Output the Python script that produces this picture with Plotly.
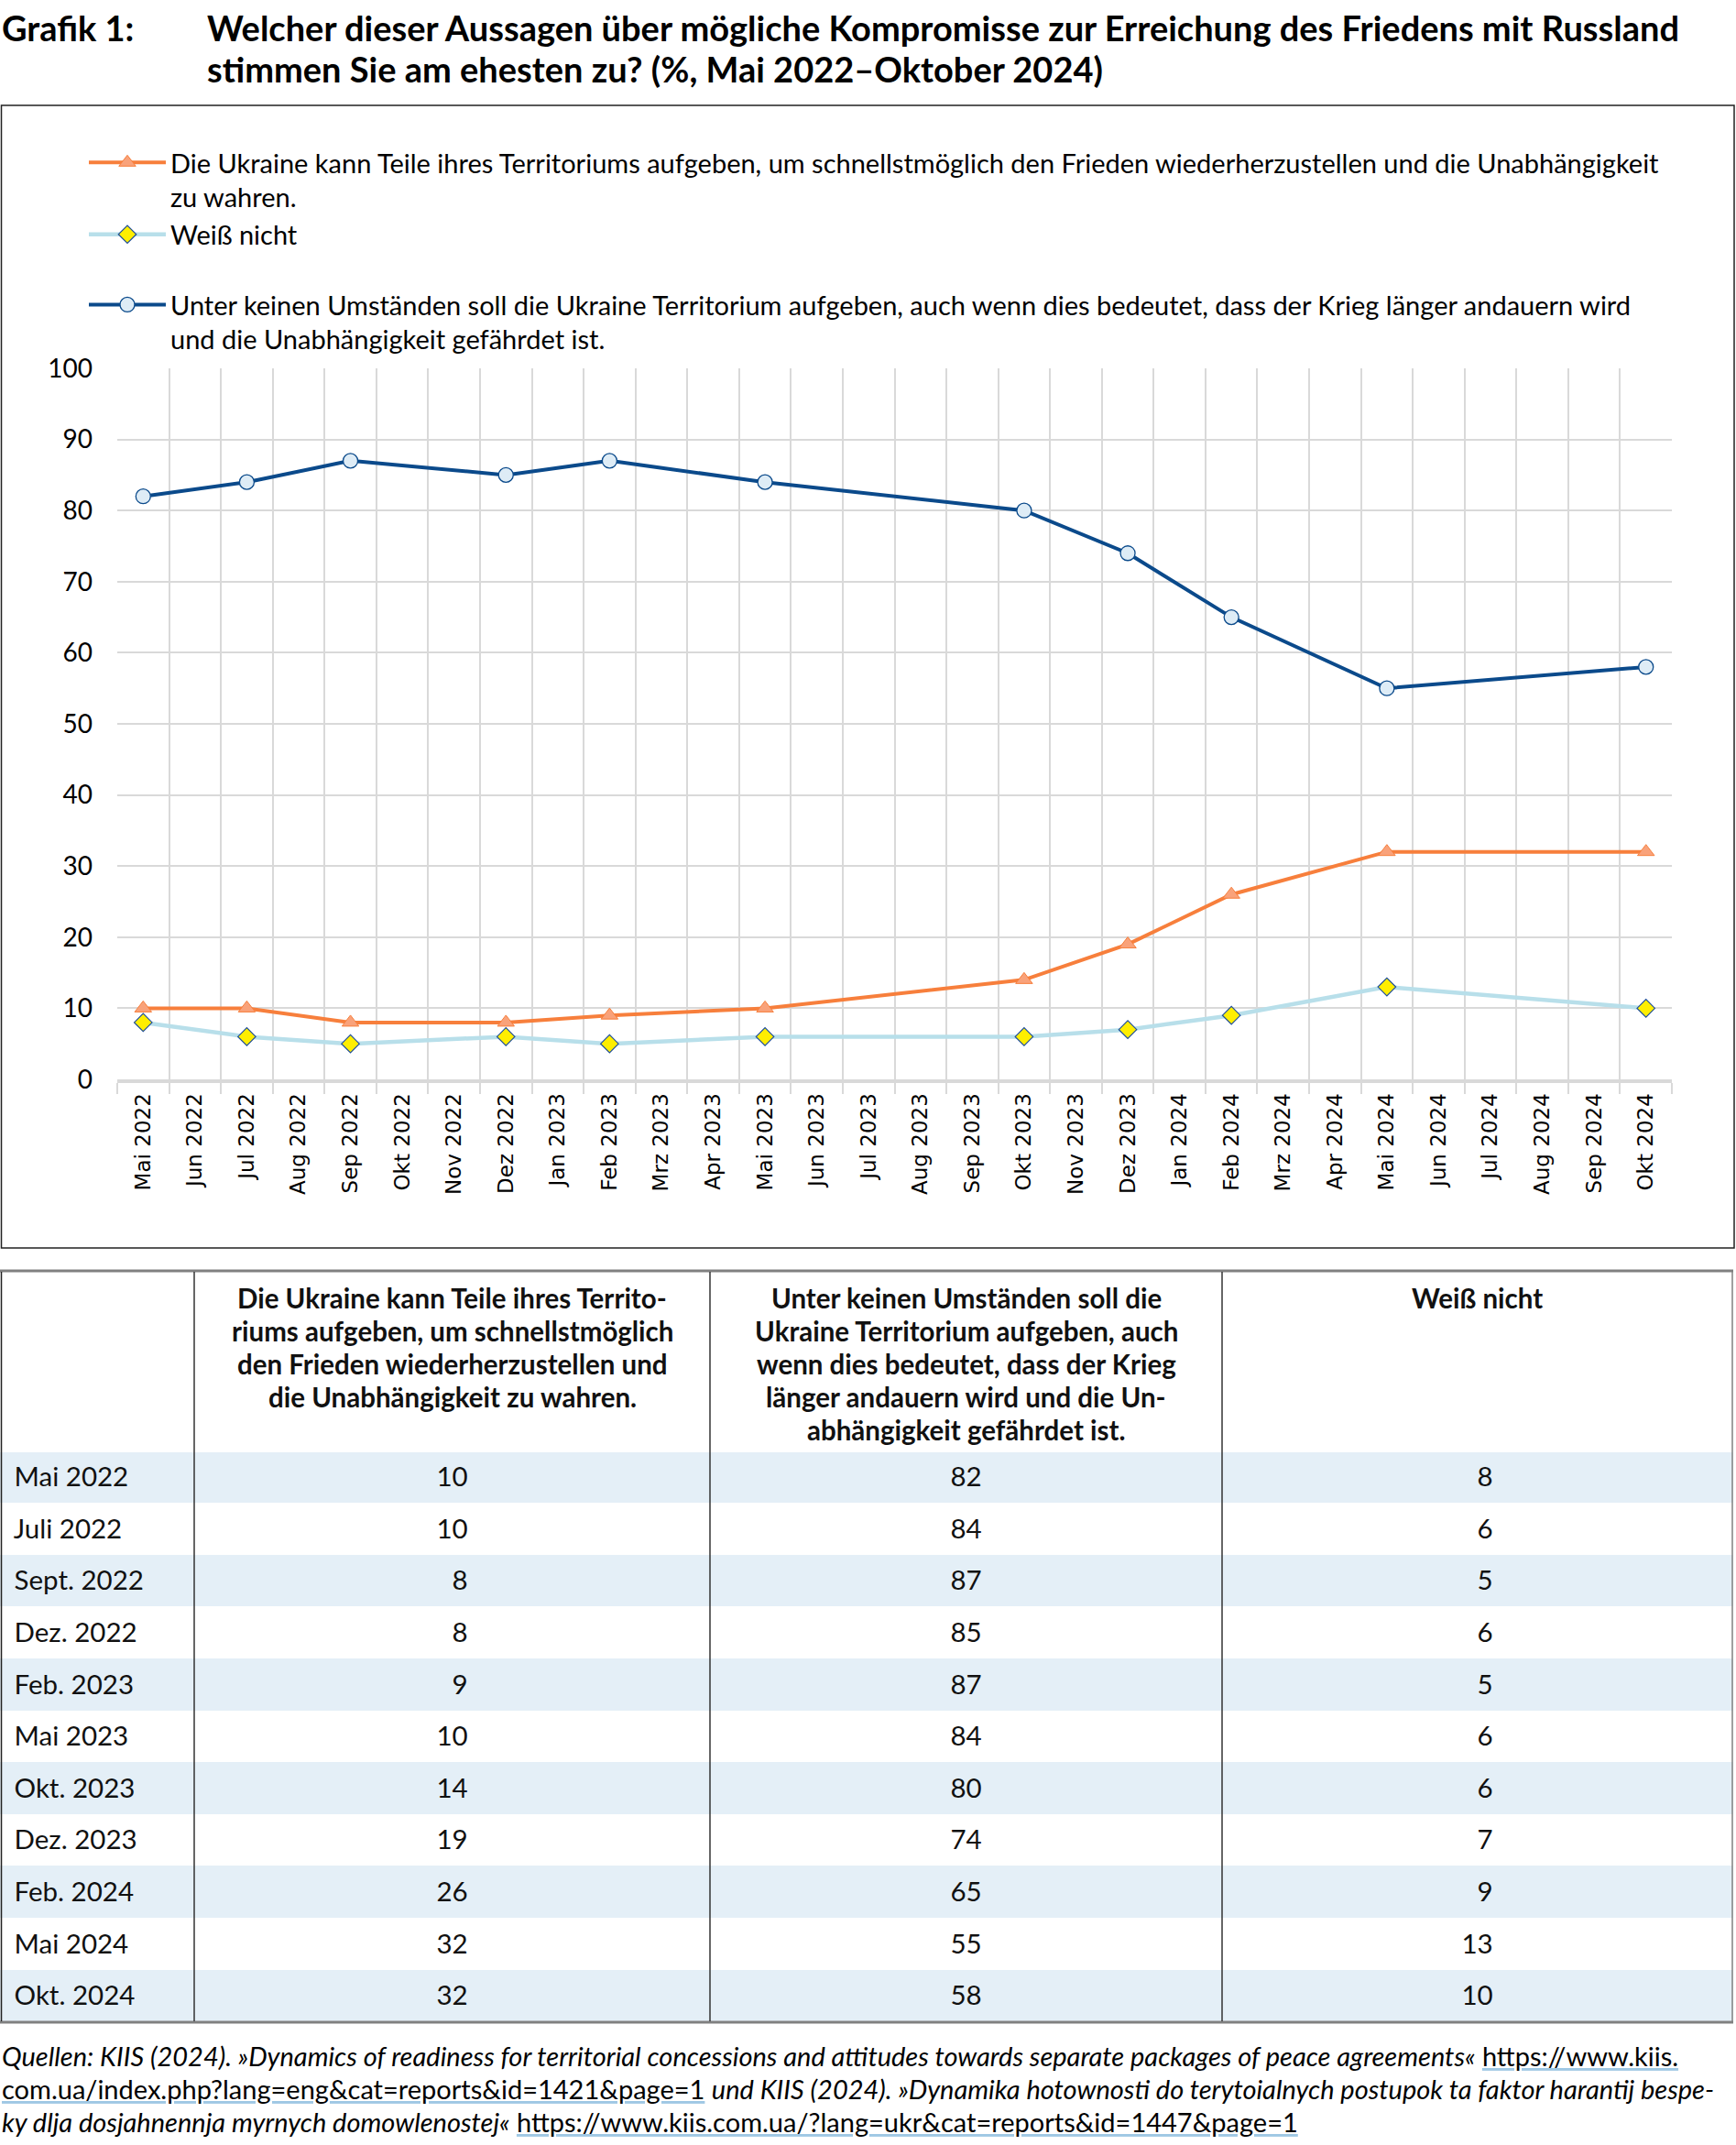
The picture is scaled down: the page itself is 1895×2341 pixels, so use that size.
import plotly.graph_objects as go

W, H = 1895, 2341

# ---------------- data ----------------
axis_months = ["Mai 2022", "Jun 2022", "Jul 2022", "Aug 2022", "Sep 2022", "Okt 2022", "Nov 2022",
               "Dez 2022", "Jan 2023", "Feb 2023", "Mrz 2023", "Apr 2023", "Mai 2023", "Jun 2023",
               "Jul 2023", "Aug 2023", "Sep 2023", "Okt 2023", "Nov 2023", "Dez 2023", "Jan 2024",
               "Feb 2024", "Mrz 2024", "Apr 2024", "Mai 2024", "Jun 2024", "Jul 2024", "Aug 2024",
               "Sep 2024", "Okt 2024"]
survey_months = ["Mai 2022", "Jul 2022", "Sep 2022", "Dez 2022", "Feb 2023", "Mai 2023",
                 "Okt 2023", "Dez 2023", "Feb 2024", "Mai 2024", "Okt 2024"]
table_labels = ["Mai 2022", "Juli 2022", "Sept. 2022", "Dez. 2022", "Feb. 2023", "Mai 2023",
                "Okt. 2023", "Dez. 2023", "Feb. 2024", "Mai 2024", "Okt. 2024"]
give_territory = [10, 10, 8, 8, 9, 10, 14, 19, 26, 32, 32]
no_concession = [82, 84, 87, 85, 87, 84, 80, 74, 65, 55, 58]
dont_know = [8, 6, 5, 6, 5, 6, 6, 7, 9, 13, 10]
y_ticks = [0, 10, 20, 30, 40, 50, 60, 70, 80, 90, 100]

name_give = "Die Ukraine kann Teile ihres Territoriums aufgeben, um schnellstmöglich den Frieden wiederherzustellen und die Unabhängigkeit<br>zu wahren."
name_dk = "Weiß nicht"
name_no = "Unter keinen Umständen soll die Ukraine Territorium aufgeben, auch wenn dies bedeutet, dass der Krieg länger andauern wird<br>und die Unabhängigkeit gefährdet ist."

header_lines = [
    [],
    ["Die Ukraine kann Teile ihres Territo-", "riums aufgeben, um schnellstmöglich",
     "den Frieden wiederherzustellen und", "die Unabhängigkeit zu wahren."],
    ["Unter keinen Umständen soll die", "Ukraine Territorium aufgeben, auch",
     "wenn dies bedeutet, dass der Krieg", "länger andauern wird und die Un-",
     "abhängigkeit gefährdet ist."],
    ["Weiß nicht"],
]

# ---------------- helpers ----------------
def px_x(x):
    return x / W

def px_y(y):
    return 1 - y / H

C_BLUE = "#0b4a8b"
C_ORANGE = "#f77f3c"
C_LBLUE = "#b8dfea"
FONT = "Lato"

fig = go.Figure()

fig.add_trace(go.Scatter(
    x=survey_months, y=give_territory, name=name_give, mode="lines+markers",
    legendgroup="a",
    line=dict(color=C_ORANGE, width=4),
    marker=dict(symbol="triangle-up", size=16, color="#f9a27a", line=dict(color=C_ORANGE, width=1)),
))
fig.add_trace(go.Scatter(
    x=survey_months, y=dont_know, name=name_dk, mode="lines+markers",
    legendgroup="a",
    line=dict(color=C_LBLUE, width=4.5),
    marker=dict(symbol="diamond", size=15, color="#ffee00", line=dict(color="#1f4e9c", width=1.2)),
))
fig.add_trace(go.Scatter(
    x=survey_months, y=no_concession, name=name_no, mode="lines+markers",
    legendgroup="b",
    line=dict(color=C_BLUE, width=4),
    marker=dict(symbol="circle", size=16, color="#deecf6", line=dict(color=C_BLUE, width=1.3)),
))

# ---------------- table ----------------
def pad(v):
    s = str(v)
    return ("\u2007" + s) if len(s) == 1 else s

row_fill = ["#e4eff7" if i % 2 == 0 else "#ffffff" for i in range(len(table_labels))]
col_w = [212, 563, 559, 557]
n_rows = len(table_labels)
CLEAR = "rgba(0,0,0,0)"

# background table: row shading
fig.add_trace(go.Table(
    domain=dict(x=[0, px_x(1891)], y=[px_y(2220), px_y(1387)]),
    columnwidth=col_w,
    header=dict(values=["", "", "", ""], height=197,
                fill=dict(color="white"), line=dict(color="white", width=1)),
    cells=dict(values=[[""] * n_rows] * 4, height=56.6,
               fill=dict(color=[row_fill] * 4),
               line=dict(color=[row_fill] * 4, width=1)),
))
# text table (transparent), nudged down so the values sit centred in the shaded rows
fig.add_trace(go.Table(
    domain=dict(x=[0, px_x(1891)], y=[px_y(2228), px_y(1395)]),
    columnwidth=col_w,
    header=dict(values=["", "", "", ""], height=197,
                fill=dict(color=CLEAR), line=dict(color=CLEAR, width=0)),
    cells=dict(
        values=[["\u00a0" + s for s in table_labels],
                [pad(v) for v in give_territory],
                [pad(v) for v in no_concession],
                [pad(v) for v in dont_know]],
        align=["left", "center", "center", "center"],
        height=56.6,
        fill=dict(color=CLEAR),
        line=dict(color=CLEAR, width=0),
        font=dict(family=FONT, size=29.5, color="#111111"),
    ),
))

shapes = []
# chart frame
shapes.append(dict(type="rect", xref="paper", yref="paper",
                   x0=px_x(1.5), x1=px_x(1893), y0=px_y(1362), y1=px_y(115),
                   line=dict(color="#222222", width=1.5), layer="below"))
# table frame
shapes.append(dict(type="line", xref="paper", yref="paper", x0=0, x1=px_x(1892),
                   y0=px_y(1387), y1=px_y(1387), line=dict(color="#808080", width=3)))
shapes.append(dict(type="line", xref="paper", yref="paper", x0=0, x1=px_x(1892),
                   y0=px_y(2207), y1=px_y(2207), line=dict(color="#808080", width=3)))
for xv, col in [(1.5, "#222222"), (212, "#333333"), (775, "#333333"), (1334, "#333333"), (1891, "#808080")]:
    shapes.append(dict(type="line", xref="paper", yref="paper", x0=px_x(xv), x1=px_x(xv),
                       y0=px_y(1388), y1=px_y(2206), line=dict(color=col, width=1.5)))

annotations = [
    dict(text="<b>Grafik 1:</b>", x=0, y=px_y(30), xref="paper", yref="paper",
         xanchor="left", yanchor="middle", showarrow=False,
         font=dict(family=FONT, size=38, color="#000000")),
    dict(text="<b>Welcher dieser Aussagen über mögliche Kompromisse zur Erreichung des Friedens mit Russland</b>",
         x=px_x(224), y=px_y(30), xref="paper", yref="paper",
         xanchor="left", yanchor="middle", showarrow=False,
         font=dict(family=FONT, size=38, color="#000000")),
    dict(text="<b>stimmen Sie am ehesten zu? (%, Mai 2022–Oktober 2024)</b>",
         x=px_x(224), y=px_y(75), xref="paper", yref="paper",
         xanchor="left", yanchor="middle", showarrow=False,
         font=dict(family=FONT, size=38, color="#000000")),
]

# table header text (one annotation per line, centred in its column)
x_left = 0
for ci, lines in enumerate(header_lines):
    cx = x_left + col_w[ci] / 2
    x_left += col_w[ci]
    for li, t in enumerate(lines):
        annotations.append(dict(text="<b>" + t + "</b>", x=px_x(cx), y=px_y(1416 + 36 * li),
                                xref="paper", yref="paper", xanchor="center", yanchor="middle",
                                showarrow=False, font=dict(family=FONT, size=29.5, color="#111111")))

def link(t):
    # light-blue underline, black text
    return ("<span style='text-decoration:underline;color:#9fc8e4'>"
            "<span style='color:#000000'>" + t + "</span></span>")

footer_lines = [
    "<i>Quellen: KIIS (2024). »Dynamics of readiness for territorial concessions and attitudes towards separate packages of peace agreements«</i> " + link("https://www.kiis."),
    link("com.ua/index.php?lang=eng&amp;cat=reports&amp;id=1421&amp;page=1") + " <i>und KIIS (2024). »Dynamika hotownosti do terytoialnych postupok ta faktor harantij bespe-</i>",
    "<i>ky dlja dosjahnennja myrnych domowlenostej«</i> " + link("https://www.kiis.com.ua/?lang=ukr&amp;cat=reports&amp;id=1447&amp;page=1"),
]
for i, t in enumerate(footer_lines):
    annotations.append(dict(text=t, x=0, y=px_y(2243 + 36 * i), xref="paper", yref="paper",
                            xanchor="left", yanchor="middle", showarrow=False,
                            font=dict(family=FONT, size=29, color="#000000")))

fig.update_layout(
    width=W, height=H,
    margin=dict(l=0, r=0, t=0, b=0, autoexpand=False),
    paper_bgcolor="white", plot_bgcolor="white",
    font=dict(family=FONT, color="#000000"),
    showlegend=True,
    legend=dict(
        x=px_x(92), y=px_y(152), xanchor="left", yanchor="top",
        font=dict(family=FONT, size=29, color="#000000"),
        traceorder="grouped", tracegroupgap=36, valign="top",
        itemwidth=84, bgcolor="rgba(0,0,0,0)",
    ),
    xaxis=dict(
        domain=[px_x(128), px_x(1825)], automargin=False,
        type="category", categoryorder="array", categoryarray=axis_months,
        tickmode="array", tickvals=axis_months, ticktext=axis_months,
        range=[-0.5, len(axis_months) - 0.5],
        tickson="boundaries", ticks="outside", ticklen=12, tickwidth=2, tickcolor="#d9d9d9",
        showgrid=True, gridcolor="#d9d9d9", gridwidth=1.5,
        showline=True, linecolor="#d9d9d9", linewidth=4,
        tickangle=-90, tickfont=dict(family="DejaVu Sans", size=23, color="#000000"),
        ticklabelstandoff=2, fixedrange=True,
    ),
    yaxis=dict(
        domain=[px_y(1178), px_y(402)], automargin=False,
        range=[0, 100], tickvals=y_ticks,
        showgrid=True, gridcolor="#d9d9d9", gridwidth=1.5, zeroline=False,
        showline=False, ticks="",
        tickfont=dict(family=FONT, size=28, color="#000000"),
        ticklabelstandoff=26, fixedrange=True,
    ),
    shapes=shapes,
    annotations=annotations,
)

post = ("document.body.style.margin='0';document.documentElement.style.margin='0';"
        "var d=document.getElementById('{plot_id}');"
        "d.style.position='absolute';d.style.left='0px';d.style.top='0px';")
fig.write_html("out.html", post_script=post, config={"displayModeBar": False})
